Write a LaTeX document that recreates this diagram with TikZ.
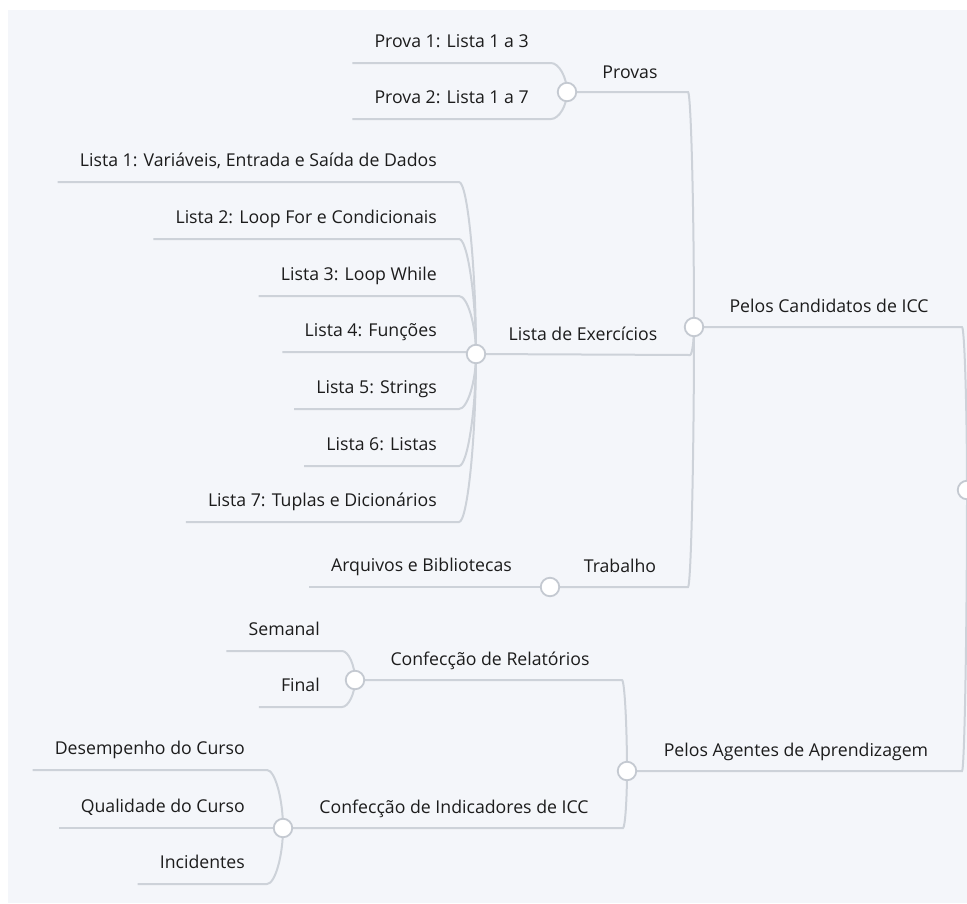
\documentclass[tikz,border=0pt]{standalone}
\usepackage{fontspec}
\setmainfont{Open Sans}
\usetikzlibrary{calc}
\definecolor{paper}{HTML}{F4F6FA}
\definecolor{wire}{HTML}{CDD2D9}
\definecolor{ring}{HTML}{C4C9D1}
\definecolor{ink}{HTML}{1C1C1C}
\pgfdeclarelayer{back}
\pgfdeclarelayer{wires}
\pgfsetlayers{back,wires,main}

\tikzset{
  conn/.style={draw=wire, line width=2pt},
  knob/.style={circle, draw=ring, fill=white, line width=1.8pt,
    minimum size=18.5pt, inner sep=0pt},
  txt/.style={font=\fontsize{17.7}{20}\selectfont, text=ink},
  leaf/.style={txt, inner xsep=22pt, inner ysep=15pt, text depth=0pt,
    anchor=south east},
  topic/.style={txt, inner sep=0pt, anchor=base}
}

% curved elbow from a parent knob to a corner, then straight on to the end
\newcommand{\twig}[3]{%
  \begin{pgfonlayer}{wires}
  \draw[conn] let \p1=(#1.center), \p2=(#2) in
    (\p1) .. controls (\x1, {0.5*\y1+0.5*\y2}) and ({0.5*\x1+0.5*\x2}, \y2) .. (\p2) -- (#3);
  \end{pgfonlayer}}

\begin{document}
\begin{tikzpicture}[x=1pt, y=-1pt]
\useasboundingbox (0,0) rectangle (967,903);
\begin{pgfonlayer}{back}
  \fill[white] (0,0) rectangle (967,903);
  \fill[paper] (8,10) rectangle (967,903);
\end{pgfonlayer}

% knobs
\node[knob] (root) at (967,490) {};
\node[knob] (cand) at (694,327) {};
\node[knob] (agen) at (627,771) {};
\node[knob] (prov) at (567,92) {};
\node[knob] (list) at (476,354) {};
\node[knob] (trab) at (550,587) {};
\node[knob] (rela) at (355,680) {};
\node[knob] (indi) at (283,828) {};

% corners
\coordinate (kCand) at (962,327);
\coordinate (kAgen) at (962,771);
\coordinate (kProv) at (688,92);
\coordinate (kList) at (690,355);
\coordinate (kTrab) at (688,587);
\coordinate (kRela) at (622,680);
\coordinate (kIndi) at (623,828);

% topic labels
\node[topic] (tCand) at (829,312) {Pelos Candidatos de ICC};
\node[topic] (tAgen) at (796,756) {Pelos Agentes de Aprendizagem};
\node[topic] (tProv) at (630,78) {Provas};
\node[topic] (tList) at (583,340) {Lista de Exercícios};
\node[topic] (tTrab) at (620,572) {Trabalho};
\node[topic] (tRela) at (490,665) {Confecção de Relatórios};
\node[topic] (tIndi) at (454,813) {Confecção de Indicadores de ICC};

% main branches
\twig{root}{kCand}{cand.center}
\twig{root}{kAgen}{agen.center}
\twig{cand}{kProv}{prov.center}
\twig{cand}{kList}{list.center}
\twig{cand}{kTrab}{trab.center}
\twig{agen}{kRela}{rela.center}
\twig{agen}{kIndi}{indi.center}

% Provas
\node[leaf] (p1) at (551,63) {Prova 1: Lista 1 a 3};
\node[leaf] (p2) at (551,119) {Prova 2: Lista 1 a 7};
\twig{prov}{p1.south east}{p1.south west}
\twig{prov}{p2.south east}{p2.south west}

% Lista de Exercicios
\node[leaf] (l1) at (459,182) {Lista 1: Variáveis, Entrada e Saída de Dados};
\node[leaf] (l2) at (459,239) {Lista 2: Loop For e Condicionais};
\node[leaf] (l3) at (459,296) {Lista 3: Loop While};
\node[leaf] (l4) at (459,352) {Lista 4: Funções};
\node[leaf] (l5) at (459,409) {Lista 5: Strings};
\node[leaf] (l6) at (459,466) {Lista 6: Listas};
\node[leaf] (l7) at (459,522) {Lista 7: Tuplas e Dicionários};
\twig{list}{l1.south east}{l1.south west}
\twig{list}{l2.south east}{l2.south west}
\twig{list}{l3.south east}{l3.south west}
\twig{list}{l4.south east}{l4.south west}
\twig{list}{l5.south east}{l5.south west}
\twig{list}{l6.south east}{l6.south west}
\twig{list}{l7.south east}{l7.south west}

% Trabalho
\node[leaf] (arq) at (534,587) {Arquivos e Bibliotecas};
\twig{trab}{arq.south east}{arq.south west}

% Relatorios
\node[leaf] (sem) at (342,651) {Semanal};
\node[leaf] (fin) at (342,707) {Final};
\twig{rela}{sem.south east}{sem.south west}
\twig{rela}{fin.south east}{fin.south west}

% Indicadores
\node[leaf] (des) at (267,770) {Desempenho do Curso};
\node[leaf] (qua) at (267,828) {Qualidade do Curso};
\node[leaf] (inc) at (267,884) {Incidentes};
\twig{indi}{des.south east}{des.south west}
\twig{indi}{qua.south east}{qua.south west}
\twig{indi}{inc.south east}{inc.south west}
\end{tikzpicture}
\end{document}
